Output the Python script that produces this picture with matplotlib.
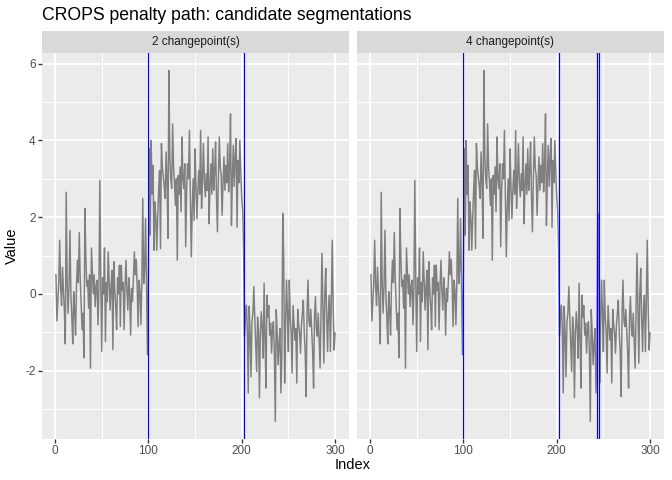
import matplotlib
matplotlib.use("Agg")
import matplotlib.pyplot as plt
import numpy as np

plt.rcParams['font.family'] = ['Liberation Sans', 'DejaVu Sans']
plt.rcParams['axes.unicode_minus'] = False

title = "CROPS penalty path: candidate segmentations"
x_label = "Index"
y_label = "Value"
panel_labels = ["2 changepoint(s)", "4 changepoint(s)"]
changepoints = [[100, 202], [100, 202, 243, 245]]
x_ticks = [0, 100, 200, 300]
y_ticks = [-2, 0, 2, 4, 6]

seg1 = [0.5, -0.7, -0.2, 0.3, 1.4, 0.2, -0.3, 0.7, 0.1, -0.4,
        -1.3, 2.65, 0.3, -0.5, 0.2, 1.66, 0.0, -0.6, -1.3, 0.06,
        -0.4, -1.07, 0.2, 0.88, 0.3, 1.6, 0.4, -0.3, -0.93, -0.5,
        -1.66, 2.23, 1.0, 0.2, 0.36, -0.37, 0.5, -1.93, 1.2, 0.6,
        0.0, 0.5, -0.33, 0.2, 0.36, -0.8, 0.1, 2.96, 0.4, -1.5,
        0.42, 0.0, 1.2, -1.24, 0.3, -0.2, 1.1, 0.3, -0.42, 0.2,
        0.62, -1.45, 0.84, 0.1, -0.3, -0.93, 0.42, 0.0, 0.75, -0.85,
        0.75, 0.1, 0.3, -0.93, 0.2, 0.88, 0.1, -0.42, 0.42, 0.0,
        -1.07, 0.15, -0.2, 0.4, 1.1, 0.5, 0.9, 0.2, -0.85, 0.36,
        0.1, -0.8, 0.27, 2.49, 0.27, 0.6, 1.97, 0.3, -1.58, 0.5]
seg2 = [3.78, 1.53, 4.0, 2.6, 3.35, 1.14, 2.4, 2.0, 1.14, 2.0,
        2.7, 3.22, 1.18, 3.92, 3.3, 3.05, 2.8, 2.49, 3.7, 2.9,
        1.45, 5.82, 3.57, 3.0, 2.75, 4.43, 3.31, 2.9, 2.31, 3.0,
        0.88, 3.09, 2.6, 3.31, 2.14, 4.09, 3.0, 2.75, 3.39, 1.23,
        2.7, 3.39, 3.0, 4.26, 2.5, 0.97, 2.27, 3.0, 1.92, 3.78,
        2.8, 1.96, 2.7, 3.22, 2.6, 4.26, 2.23, 3.0, 3.92, 2.9,
        2.53, 3.13, 2.7, 4.09, 1.83, 2.8, 3.39, 2.6, 3.78, 2.7,
        3.2, 3.96, 2.5, 1.62, 3.0, 4.09, 3.3, 3.09, 2.05, 2.9,
        3.57, 2.7, 3.35, 2.9, 3.92, 2.66, 3.3, 4.69, 1.79, 3.0,
        3.87, 2.8, 3.57, 4.05, 1.74, 3.48, 2.9, 4.0, 3.2, 2.53,
        2.18, 1.19]
seg3 = [-1.1, -0.6, -0.29, -0.9, -2.58, -0.32, -1.0, -2.16, -0.72, -0.5,
        0.19, -0.6, -1.28, -2.02, -0.6, -0.97, -2.7, -1.0, -0.46, -0.9,
        -1.67, 0.28, -1.2, -2.45, -0.03, -0.6, -0.3, -1.07, -0.76, -1.54,
        -0.9, -0.72, -1.5, -3.32, -0.41, -1.0, -1.84, -1.28, -0.9, -2.58,
        -1.6]
seg4 = [2.1, 0.9]
seg5 = [-2.32, -0.8, 0.36, -0.5, -1.5, 0.36, -0.6, -1.0, -2.06, -0.3,
        -0.76, -1.2, -0.9, -2.32, -0.4, -0.8, -1.0, -1.54, -0.8, -0.5,
        -0.16, -1.0, -1.5, -2.67, -0.5, 0.36, -0.7, -0.85, -0.4, -0.93,
        -1.5, -2.45, -0.6, -0.07, -0.9, -1.1, -0.5, -1.2, -1.93, -0.4,
        1.06, -0.3, -1.8, 0.0, 0.67, -0.6, -1.5, -0.4, -0.03, -1.5,
        -0.2, 1.4, -0.3, -1.46, -1.02]

values = np.array(seg1 + seg2 + seg3 + seg4 + seg5)
index = np.arange(1, len(values) + 1)

W, H = 672, 480
fig = plt.figure(figsize=(W / 96, H / 96), dpi=96)

panel_top, panel_bot = 53, 439
strip_top = 31
panels_x = [(42, 349), (357, 664)]

xmin, xmax = index.min(), index.max()
xr = xmax - xmin
ymin, ymax = values.min(), values.max()
yr = ymax - ymin
xlim = (xmin - 0.05 * xr, xmax + 0.05 * xr)
ylim = (ymin - 0.05 * yr, ymax + 0.05 * yr)

for k, (x0, x1) in enumerate(panels_x):
    ax = fig.add_axes([x0 / W, 1 - panel_bot / H, (x1 - x0) / W, (panel_bot - panel_top) / H])
    ax.set_facecolor('#EBEBEB')
    ax.set_xlim(xlim)
    ax.set_ylim(ylim)
    ax.set_xticks(x_ticks)
    ax.set_yticks(y_ticks)
    ax.set_xticks([50, 150, 250], minor=True)
    ax.set_yticks([-3, -1, 1, 3, 5], minor=True)
    ax.grid(which='major', color='white', linewidth=1.4)
    ax.grid(which='minor', color='white', linewidth=0.7)
    ax.set_axisbelow(True)
    for s in ax.spines.values():
        s.set_visible(False)
    ax.tick_params(which='minor', length=0)
    ax.tick_params(which='major', length=2.75, width=1.0, color='#333333',
                   labelcolor='#4D4D4D', labelsize=8.8, pad=2)
    if k == 1:
        ax.tick_params(axis='y', which='both', left=False, labelleft=False)
    ax.plot(index, values, color='#7F7F7F', linewidth=1.1, zorder=2)
    for cp in changepoints[k]:
        ax.axvline(cp, color='#0000FF', linewidth=0.9, zorder=3)
    sax = fig.add_axes([x0 / W, 1 - panel_top / H, (x1 - x0) / W, (panel_top - strip_top) / H])
    sax.set_facecolor('#D9D9D9')
    sax.set_xticks([])
    sax.set_yticks([])
    for s in sax.spines.values():
        s.set_visible(False)
    sax.text(0.5, 0.5, panel_labels[k], ha='center', va='center',
             fontsize=8.8, color='#1A1A1A', transform=sax.transAxes)

fig.text(42 / W, 1 - 15 / H, title, ha='left', va='center', fontsize=13.2, color='black')
fig.text((42 + 664) / 2 / W, 1 - 465 / H, x_label, ha='center', va='center', fontsize=11)
fig.text(12 / W, 1 - 246 / H, y_label, ha='center', va='center', fontsize=11, rotation=90)

fig.savefig('out.png', dpi=96)
